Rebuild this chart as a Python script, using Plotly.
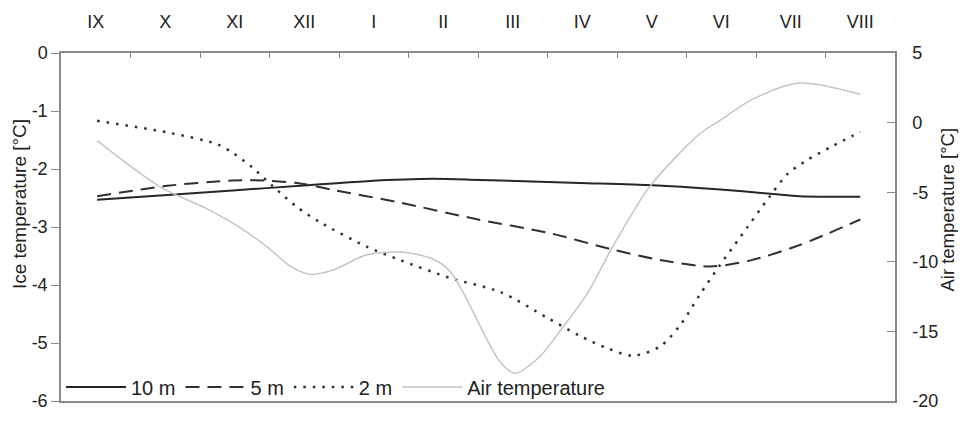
import plotly.graph_objects as go

# Months (x in month units: 0 = start of IX, 12 = end of VIII)
month_labels = ["IX", "X", "XI", "XII", "I", "II", "III", "IV", "V", "VI", "VII", "VIII"]
month_centers = [i + 0.5 for i in range(12)]
month_bounds = list(range(13))

# Tick labels
ice_ticks = [0, -1, -2, -3, -4, -5, -6]
ice_ticktext = ["0", "-1", "-2", "-3", "-4", "-5", "-6"]
air_ticks = [5, 0, -5, -10, -15, -20]
air_ticktext = ["5", "0", "-5", "-10", "-15", "-20"]

# Ice temperature at 10 m [°C]
x_10m = [0.52, 1.53, 2.47, 3.44, 4.40, 5.35, 6.03, 7.47, 8.52, 9.44, 10.24, 10.63, 11.50]
t_10m = [-2.53, -2.45, -2.37, -2.29, -2.21, -2.17, -2.19, -2.24, -2.28, -2.35, -2.43, -2.47, -2.48]

# Ice temperature at 5 m [°C]
x_5m = [0.52, 1.53, 2.47, 2.96, 3.44, 3.91, 4.88, 6.00, 7.01, 7.94, 8.62, 9.34, 9.91, 10.63, 11.50]
t_5m = [-2.47, -2.29, -2.20, -2.20, -2.25, -2.36, -2.58, -2.87, -3.10, -3.39, -3.57, -3.68, -3.58, -3.31, -2.87]

# Ice temperature at 2 m [°C]
x_2m = [0.52, 1.53, 2.24, 2.47, 2.76, 3.05, 3.40, 3.73, 4.40, 4.88, 5.60, 6.32, 6.99,
        7.47, 7.86, 8.23, 8.62, 8.91, 9.19, 9.48, 9.77, 10.20, 10.45, 10.73, 11.11, 11.50]
t_2m = [-1.17, -1.37, -1.57, -1.72, -1.98, -2.30, -2.66, -2.92, -3.34, -3.57, -3.88, -4.12, -4.56,
        -4.88, -5.09, -5.22, -5.06, -4.69, -4.17, -3.66, -3.18, -2.47, -2.09, -1.85, -1.60, -1.36]

# Air temperature [°C]
x_air = [0.52, 1.42, 2.10, 2.53, 2.96, 3.29, 3.58, 3.91, 4.40, 4.88, 5.35, 5.60, 5.84, 6.07, 6.32,
         6.53, 6.89, 7.22, 7.57, 7.94, 8.47, 9.19, 9.48, 9.96, 10.63, 11.50]
t_air = [-1.3, -4.6, -6.2, -7.4, -8.9, -10.3, -10.9, -10.6, -9.5, -9.3, -9.8, -10.7, -12.7, -15.0, -17.2,
         -18.0, -16.8, -14.7, -12.3, -8.9, -4.6, -0.8, 0.15, 1.7, 2.84, 2.03]

FONT = "Liberation Sans, Arial, sans-serif"
TXT = "#222222"
AX = "#8a8a8a"

fig = go.Figure()
fig.add_trace(go.Scatter(x=x_10m, y=t_10m, name="10 m", mode="lines",
                         line=dict(color="#262626", width=2, shape="spline", smoothing=0.8)))
fig.add_trace(go.Scatter(x=x_5m, y=t_5m, name="5 m", mode="lines",
                         line=dict(color="#303030", width=2, dash="14px,8px", shape="spline", smoothing=0.8)))
fig.add_trace(go.Scatter(x=x_2m, y=t_2m, name="2 m", mode="lines",
                         line=dict(color="#303030", width=2.5, dash="2.5px,7px", shape="spline", smoothing=0.8)))
fig.add_trace(go.Scatter(x=x_air, y=t_air, name="Air temperature", mode="lines", yaxis="y2",
                         line=dict(color="#c4c4c4", width=1.5, shape="spline", smoothing=0.8)))

# invisible trace to activate the month label axis
fig.add_trace(go.Scatter(x=month_centers, y=[None] * 12, xaxis="x2", showlegend=False, hoverinfo="skip"))

fig.update_layout(
    width=960, height=423,
    margin=dict(l=61, r=65, t=41, b=12),
    paper_bgcolor="white", plot_bgcolor="white",
    font=dict(family=FONT, color=TXT, size=18),
    showlegend=True,
    legend=dict(orientation="h", x=0, y=0.04, xanchor="left", yanchor="middle",
                bgcolor="rgba(0,0,0,0)", font=dict(size=20, family=FONT, color=TXT),
                itemwidth=60, tracegroupgap=0),
    xaxis=dict(range=[0, 12], side="top", tickmode="array", tickvals=month_bounds,
               showticklabels=False, ticks="inside", ticklen=5, tickcolor=AX,
               showline=True, linecolor=AX, linewidth=1.5, mirror=True,
               showgrid=False, zeroline=False, fixedrange=True),
    xaxis2=dict(range=[0, 12], overlaying="x", side="top", tickmode="array",
                tickvals=month_centers, ticktext=month_labels, ticks="",
                showline=False, showgrid=False, zeroline=False,
                tickfont=dict(size=18, family=FONT, color=TXT), ticklabelstandoff=20),
    yaxis=dict(range=[-6, 0], tickmode="array", tickvals=ice_ticks, ticktext=ice_ticktext,
               ticks="outside", ticklen=8, tickcolor=AX,
               showline=True, linecolor=AX, linewidth=1.5,
               showgrid=False, zeroline=False,
               tickfont=dict(size=18, family=FONT, color=TXT)),
    yaxis2=dict(range=[-20, 5], tickmode="array", tickvals=air_ticks, ticktext=air_ticktext,
                overlaying="y", side="right",
                ticks="inside", ticklen=8, tickcolor=AX,
                showline=True, linecolor=AX, linewidth=1.5,
                showgrid=False, zeroline=False,
                tickfont=dict(size=18, family=FONT, color=TXT), ticklabelstandoff=12),
    annotations=[
        dict(text="Ice temperature [°C]", textangle=-90, xref="paper", yref="paper",
             x=-0.0495, y=0.565, xanchor="center", yanchor="middle", showarrow=False,
             font=dict(size=19, family=FONT, color=TXT)),
        dict(text="Air temperature [°C]", textangle=-90, xref="paper", yref="paper",
             x=1.0635, y=0.55, xanchor="center", yanchor="middle", showarrow=False,
             font=dict(size=18.5, family=FONT, color=TXT)),
    ],
)

fig.write_html("out.html")
